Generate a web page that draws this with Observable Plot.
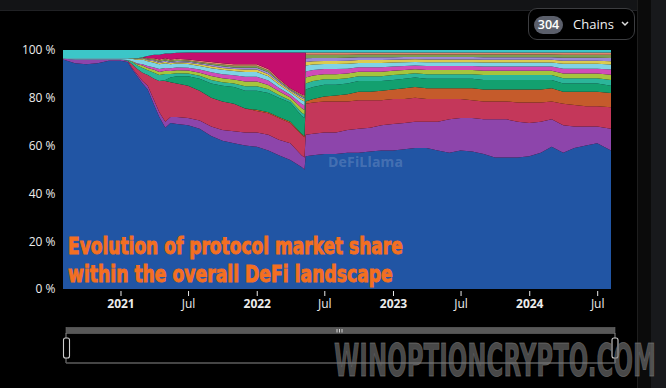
<!DOCTYPE html>
<html>
<head>
<meta charset="utf-8">
<script src="https://cdn.jsdelivr.net/npm/d3@7"></script>
<script src="https://cdn.jsdelivr.net/npm/@observablehq/plot@0.6"></script>
<style>
html,body{margin:0;padding:0;background:#000;width:666px;height:388px;overflow:hidden;font-family:"Open Sans",sans-serif}
#wrap{position:relative;width:666px;height:388px;background:#000}
#topbar{position:absolute;left:0;top:0;width:666px;height:10px;background:#131416;border-bottom:1px solid #202124}
#rightbar{position:absolute;left:637px;top:0;width:29px;height:388px;background:#0b0b0b;border-left:1px solid #1e1e1e}
#rightbar2{position:absolute;left:651px;top:0;width:15px;height:388px;background:#18191c}
#chart{position:absolute;left:0;top:0}
#overlay{position:absolute;left:0;top:0;pointer-events:none}
#btn{position:absolute;left:528px;top:8px;width:107px;height:32px;box-sizing:border-box;border:1px solid #3c3d40;border-radius:9px;background:#000;color:#fff;font-family:"Open Sans",sans-serif}
#pill{position:absolute;left:5px;top:7px;width:29px;height:18px;border-radius:9px;background:#5b5f6b;color:#fff;font-size:12.5px;font-weight:600;line-height:18px;text-align:center}
#lbl{position:absolute;left:44px;top:6px;font-size:13px;line-height:18px;color:#f2f2f2}
#chev{position:absolute;left:92px;top:12px}
</style>
</head>
<body>
<div id="wrap">
  <div id="topbar"></div>
  <div id="rightbar"></div>
  <div id="rightbar2"></div>
  <div id="chart"></div>
  <svg id="overlay" width="666" height="388"></svg>
  <div id="btn"><div id="pill">304</div><div id="lbl">Chains</div>
    <svg id="chev" width="8" height="6"><path d="M1,1 L4,4 L7,1" fill="none" stroke="#ddd" stroke-width="1.5"/></svg>
  </div>
</div>
<script>
// ---- data (shares in %) ----
const dates = ["2020-07-31","2020-09-01","2020-10-01","2020-11-01","2020-12-01","2021-01-01","2021-01-20","2021-02-01","2021-02-15","2021-03-01",
"2021-03-15","2021-04-01","2021-04-15","2021-05-01","2021-05-15","2021-06-01","2021-07-01","2021-08-01","2021-09-01","2021-10-01",
"2021-11-01","2021-12-01","2022-01-01","2022-02-01","2022-03-01","2022-04-01","2022-05-01","2022-05-09","2022-05-12","2022-06-01",
"2022-07-01","2022-08-01","2022-09-01","2022-10-01","2022-11-01","2022-12-01","2023-01-01","2023-02-01","2023-03-01","2023-04-01",
"2023-05-01","2023-06-01","2023-07-01","2023-08-01","2023-09-01","2023-10-01","2023-11-01","2023-12-01","2024-01-01","2024-02-01",
"2024-03-01","2024-04-01","2024-05-01","2024-06-01","2024-07-01","2024-08-07"];

const blue = [96,94.5,94,94.5,95.5,95.5,95,92,89,86, 83.5,77,72,67.5,69.5,69,68.5,67,64,62, 61,60,59.5,58,56,54,51,50,55.5,56, 56.5,56.5,57,57,57.5,58,58,58.5,59,59, 58,57,58,57.5,56.5,55,55,55,55.5,57, 59.5,57,59,60,61,58];
const purple = [0.3,1.5,2,1.5,0.5,0.5,0.5,0.5,0.8,1, 1.5,2,2,2.5,2.5,3,3,3.5,4,4.5, 5,5.5,6,6.5,6.5,7,5,5,9,9, 9,9,9.5,10,10,10.5,11,11,11,11, 12,14,13.5,14,14.5,16,16,15,14,13, 11.5,11.5,9,8,7,9];
const crimson = [0,0,0,0,0,0,0,1.5,2.2,3.5, 4.5,9,13,17,14.5,14,13.5,12.5,12,12, 11.5,10,9,9,9,8.5,8.5,8.5,13,13, 13,13,12,12,11.5,10.5,10.5,10,10,9.5, 9.5,8.5,8,7.5,7.5,7.5,7.5,8,8.5,8, 7.5,9,9,8.5,8.5,9];
const orange = [0,0,0,0,0,0,0,0,0,0, 0,0,0,0,0,0,0,0,0,0, 0,0,0.5,0.5,0.5,0.5,0.5,0.5,1,1.5, 2,2.5,3,3.5,3.5,4,4,4.5,4.5,4.5, 4.5,4.5,4.5,5,5,5,5,5.5,5.5,5.5, 5.5,5,5.5,6,6,6];
const green = [0,0,0,0,0,0,0,0,0,0, 0,0,0,0.5,2,3,4,5,6,6.5, 7,7.5,8,8,8,8,7.5,7.5,5,5, 5,4.5,4.5,4.5,4.5,4,4,4,4,4, 4,4,4,4,4,4,4,4,4,4, 3.5,3.5,3.5,3.5,3.5,3];
const teal = [0,0,0,0,0,0,0.3,1,1.5,2, 2,2.5,2.5,2.5,1.5,1.3,1.2,1.2,1.5,1.5, 1.5,1.8,1.8,1.6,1.2,0.9,1.4,1.5,2.5,2.5, 2.3,2.3,2.2,2,2,2,2,1.9,1.8,1.9, 1.9,1.9,1.9,1.9,2,2,2,2,2,2, 2,2.2,2.2,2.2,2.2,2.4];
const lime = [0,0,0,0,0,0,0,0.3,0.5,1, 1,1.2,1.3,1.3,1.2,1.2,1.2,1.3,1.6,1.7, 1.7,2,2,1.8,1.5,1.2,1.8,1.9,2.5,2.3, 2.1,2.1,2,1.9,1.9,1.9,1.8,1.7,1.6,1.7, 1.7,1.7,1.7,1.7,1.8,1.8,1.8,1.8,1.8,1.8, 1.8,2,2,2,2,2.2];
const pink = [0,0,0,0,0,0,0,0,0.3,0.5, 0.8,1,1.2,1.2,1.2,1.2,1.2,1.3,1.6,1.7, 1.7,2,2,1.8,1.5,1.2,1.8,1.9,2.5,2.3, 2.1,2.1,2,1.9,1.9,1.9,1.8,1.7,1.6,1.7, 1.7,1.7,1.7,1.7,1.8,1.8,1.8,1.8,1.8,1.8, 1.8,2,2,2,2,2.2];
const sky = [0.2,0.5,0.5,0.5,0.5,0.5,0.7,1,1.5,2, 2,2,2,2,1.6,1.6,1.5,1.5,1.7,1.8, 1.8,2,2,1.8,1.4,1,1.6,1.7,2.5,2.3, 2.1,2.1,2,1.8,1.8,1.8,1.7,1.6,1.5,1.6, 1.6,1.6,1.6,1.6,1.7,1.7,1.7,1.7,1.7,1.7, 1.7,2,2,2,2,2.1];
const yellow = [0,0,0,0,0,0,0,0.2,0.3,0.4, 0.4,0.6,0.6,0.6,0.6,0.6,0.6,0.7,0.8,0.8, 0.8,1,1,0.9,0.8,0.6,0.8,0.8,1.5,1.4, 1.3,1.3,1.3,1.2,1.2,1.2,1.1,1.1,1.1,1.1, 1.1,1.1,1.1,1.1,1.1,1.1,1.1,1.1,1.1,1.1, 1.1,1.3,1.3,1.3,1.3,1.4];
const lavender = [0,0,0,0,0,0,0,0,0.2,0.3, 0.3,0.4,0.5,0.5,0.5,0.5,0.5,0.5,0.6,0.7, 0.7,0.8,0.8,0.8,0.6,0.4,0.6,0.6,1.5,1.4, 1.3,1.3,1.3,1.2,1.2,1.2,1.1,1.1,1,1.1, 1.1,1.1,1.1,1.1,1.1,1.1,1.1,1.1,1.1,1.1, 1.1,1.3,1.3,1.3,1.3,1.4];
const olive = [0,0,0,0,0,0,0,0,0.2,0.3, 0.3,0.4,0.5,0.5,0.5,0.5,0.4,0.5,0.6,0.7, 0.7,0.8,0.8,0.7,0.5,0.4,0.6,0.6,1.5,1.3, 1.3,1.3,1.2,1.1,1.1,1.1,1.1,1,1,1, 1,1,1,1,1.1,1.1,1.1,1.1,1.1,1.1, 1.1,1.2,1.2,1.2,1.2,1.3];
const salmon = [0,0,0,0,0,0,0,0,0,0, 0.2,0.4,0.4,0.4,0.4,0.4,0.4,0.5,0.6,0.6, 0.6,0.6,0.6,0.6,0.5,0.3,0.4,0.5,1,1, 1,1,1,0.9,0.9,0.9,0.9,0.9,0.9,0.9, 0.9,0.9,0.9,0.9,0.9,0.9,0.9,0.9,0.9,0.9, 0.9,1,1,1,1,1];
const magenta = [0,0,0,0,0,0,0,0,0,0, 1,1.5,2,2,2.5,2.5,3,3.5,4,4.5, 5,5,5,7,11,15,17.5,18,0,0, 0,0,0,0,0,0,0,0,0,0, 0,0,0,0,0,0,0,0,0,0, 0,0,0,0,0,0];
const cyan = [3.5,3.5,3.5,3.5,3.5,3.5,3.5,3.5,3.5,3, 2.5,2,2,1.5,1.5,1.2,1,1,1,1, 1,1,1,1,1,1,1,1,1,1, 1,1,1,1,1,1,1,1,1,1, 1,1,1,1,1,1,1,1,1,1, 1,1,1,1,1,1];

const seriesNames = ["blue","purple","crimson","orange","green","teal","lime","pink","sky","yellow","lavender","olive","salmon","magenta","cyan"];
const seriesValues = [blue,purple,crimson,orange,green,teal,lime,pink,sky,yellow,lavender,olive,salmon,magenta,cyan];
const seriesColors = ["#2155a4","#8d45ab","#c4375a","#c55b2b","#13a06f","#2bb59a","#a6c43d","#d04cb8","#7fd3e6","#dccb4f","#9c8ad8","#7f9d52","#e3866d","#c40f6e","#3cc6c8"];

const yTicks = [0,0.2,0.4,0.6,0.8,1];
const yTickLabels = ["0 %","20 %","40 %","60 %","80 %","100 %"];
const yearTicks = ["2021-01-01","2022-01-01","2023-01-01","2024-01-01"];
const yearLabels = ["2021","2022","2023","2024"];
const julTicks = ["2021-07-01","2022-07-01","2023-07-01","2024-07-01"];
const julLabels = ["Jul","Jul","Jul","Jul"];

// ---- long table for Plot ----
const rows = [];
seriesNames.forEach((name, k) => {
  seriesValues[k].forEach((v, i) => rows.push({date: new Date(dates[i]), series: name, value: v}));
});
const yLab = new Map(yTicks.map((t, i) => [t, yTickLabels[i]]));
const yearDates = yearTicks.map(d => new Date(d));
const julDates = julTicks.map(d => new Date(d));
const yearLab = new Map(yearDates.map((d, i) => [+d, yearLabels[i]]));
const julLab = new Map(julDates.map((d, i) => [+d, julLabels[i]]));

const chart = Plot.plot({
  width: 666, height: 320,
  marginLeft: 63, marginRight: 55, marginTop: 50, marginBottom: 31,
  style: {background: "transparent", color: "#ececec", fontFamily: "Open Sans, sans-serif", fontSize: "12px"},
  x: {type: "utc", domain: [new Date("2020-07-31"), new Date("2024-08-07")], axis: null, label: null},
  y: {domain: [0, 1], axis: null, label: null},
  color: {domain: seriesNames, range: seriesColors},
  marks: [
    Plot.areaY(rows, Plot.stackY({x: "date", y: "value", z: "series", fill: "series", order: seriesNames, offset: "normalize"})),
    Plot.axisY(yTicks, {label: null, tickSize: 0, tickPadding: 8, tickFormat: d => yLab.get(d), fontSize: 12}),
    Plot.axisX(yearDates, {label: null, tickSize: 5, dy: 2, tickPadding: 3, tickFormat: d => yearLab.get(+d), fontWeight: "bold", fontSize: 12}),
    Plot.axisX(julDates, {label: null, tickSize: 5, dy: 2, tickPadding: 3, tickFormat: d => julLab.get(+d), fontSize: 12})
  ]
});
document.getElementById("chart").appendChild(chart);

// ---- overlays: annotation text, watermark, range slider ----
const ov = d3.select("#overlay");
const cond = "DejaVu Sans Condensed, DejaVu Sans, sans-serif";

// fit a text horizontally into a given width by scaling (keeps the real bbox inside the page)
function fitted(x, y, width, size, fill, opacity, str) {
  const g = ov.append("g");
  const t = g.append("text").attr("x", 0).attr("y", 0).attr("font-family", cond).attr("font-weight", "bold")
    .attr("font-size", size).attr("fill", fill).attr("fill-opacity", opacity)
    .attr("stroke", fill).attr("stroke-opacity", opacity).attr("stroke-width", 0.9).text(str);
  const w = t.node().getComputedTextLength() || width;
  g.attr("transform", `translate(${x},${y}) scale(${width / w},1)`);
  return t;
}
fitted(68, 254, 335, 23, "#f36f21", 1, "Evolution of protocol market share");
fitted(68, 282, 325, 23, "#f36f21", 1, "within the overall DeFi landscape");

ov.append("text").attr("x", 328).attr("y", 167).attr("font-family", "Open Sans, sans-serif").attr("font-weight", "bold")
  .attr("font-size", 14).attr("fill", "#ffffff").attr("fill-opacity", 0.18).attr("textLength", 75)
  .text("DeFiLlama");

// slider
ov.append("rect").attr("x", 66).attr("y", 327.5).attr("width", 549).attr("height", 6).attr("fill", "#585858").attr("stroke", "#6a6a6a").attr("stroke-width", 0.6);
[337, 339.5, 342].forEach(x => ov.append("line").attr("x1", x).attr("x2", x).attr("y1", 329).attr("y2", 332.5).attr("stroke", "#e0e0e0").attr("stroke-width", 0.9));
ov.append("line").attr("x1", 66).attr("x2", 66).attr("y1", 333).attr("y2", 363).attr("stroke", "#8a8a8a");
ov.append("line").attr("x1", 615).attr("x2", 615).attr("y1", 333).attr("y2", 363).attr("stroke", "#8a8a8a");
ov.append("line").attr("x1", 66).attr("x2", 615).attr("y1", 363).attr("y2", 363).attr("stroke", "#5c5c5c").attr("stroke-width", 1.3);
[63.5, 612].forEach(x => ov.append("rect").attr("x", x).attr("y", 338).attr("width", 6).attr("height", 20).attr("rx", 2)
  .attr("fill", "#000").attr("stroke", "#cfcfcf").attr("stroke-width", 1.1));

// watermark (baseline kept high enough that the text box stays inside the page)
fitted(334, 376, 322, 45, "#7a7a7a", 0.62, "WINOPTIONCRYPTO.COM");
</script>
</body>
</html>
